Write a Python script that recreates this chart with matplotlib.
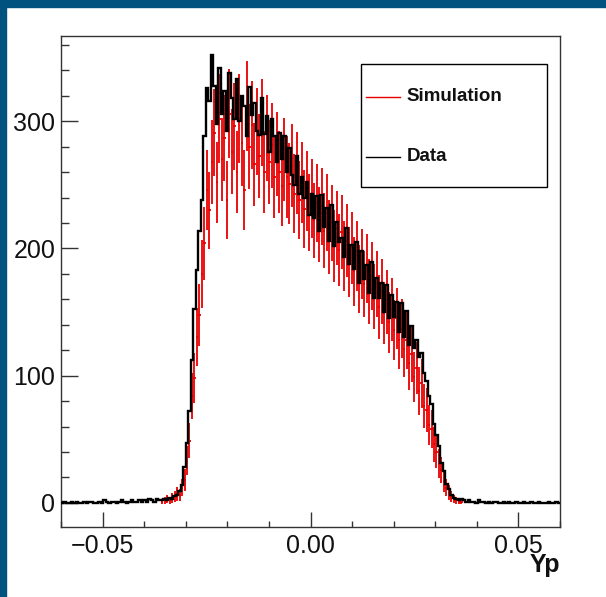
import matplotlib
matplotlib.use('Agg')
import matplotlib.pyplot as plt
from matplotlib.patches import Rectangle
from matplotlib.lines import Line2D
from matplotlib.ticker import MultipleLocator, FuncFormatter
import numpy as np

plt.rcParams['font.family'] = ['Liberation Sans', 'DejaVu Sans']

# histogram binning: 200 bins over [-0.06, 0.06]
n_bins = 200
x_min, x_max = -0.06, 0.06

# Data (black), bins 0-39, 40-160, 161-199
data_left = [0, 1, 0, 0, 1, 0, 1, 0, 0, 1, 0, 1, 1, 0, 0, 1, 0, 2, 1, 0,
             1, 1, 0, 1, 2, 1, 0, 1, 2, 1, 1, 2, 1, 2, 1, 3, 2, 1, 3, 2]
data_core = [2, 3, 2, 4, 3, 5, 6, 9, 14, 28,
             47, 72, 112, 152, 183, 214, 238, 288, 326, 316,
             352, 328, 298, 342, 306, 324, 292, 338, 318, 302,
             333, 300, 320, 312, 288, 327, 305, 314, 292, 289,
             318, 290, 304, 276, 302, 288, 268, 291, 270, 288,
             260, 279, 258, 250, 273, 243, 256, 240, 252, 226,
             243, 224, 241, 214, 242, 217, 232, 206, 234, 202,
             221, 205, 208, 193, 216, 188, 203, 184, 205, 173,
             198, 176, 187, 165, 189, 161, 177, 161, 173, 150,
             171, 145, 163, 146, 158, 134, 157, 130, 151, 124,
             139, 122, 128, 115, 118, 102, 96, 84, 78, 62,
             53, 45, 31, 25, 15, 11, 6, 4, 3, 2,
             3]
data_right = [2, 1, 2, 1, 1, 0, 2, 1, 1, 0, 1, 0, 1, 1, 0, 0, 1, 0, 1, 0,
              0, 1, 0, 0, 1, 0, 0, 1, 0, 0, 1, 0, 0, 0, 1, 0, 0, 1, 0]

# Simulation (red), same bins
sim_left = [0] * 40
sim_core = [1, 2, 3, 2, 4, 5, 7, 6, 12, 18,
            33, 49, 84, 98, 130, 148, 180, 204, 246, 230,
            268, 291, 252, 302, 270, 287, 238, 306, 276, 296,
            260, 302, 283, 246, 312, 280, 297, 266, 292, 273,
            299, 260, 287, 268, 281, 256, 274, 260, 249, 270,
            256, 251, 265, 243, 259, 238, 252, 231, 245, 228,
            239, 222, 236, 219, 233, 214, 228, 209, 220, 202,
            216, 199, 213, 194, 206, 189, 200, 182, 194, 176,
            188, 172, 184, 166, 178, 162, 172, 154, 166, 149,
            158, 142, 152, 136, 145, 128, 137, 121, 128, 110,
            117, 99, 106, 88, 94, 76, 73, 61, 58, 46,
            40, 31, 26, 17, 12, 8, 5, 3, 2, 1,
            1]
sim_right = [0] * 39
sim_scale = 4.0  # weight per simulated event, for the error bars

data = np.array(data_left + data_core + data_right, dtype=float)
sim = np.array(sim_left + sim_core + sim_right, dtype=float)

edges = np.linspace(x_min, x_max, n_bins + 1)
centers = 0.5 * (edges[1:] + edges[:-1])
half_w = 0.5 * (edges[1] - edges[0])

fig = plt.figure(figsize=(6.06, 5.97), dpi=100)
fig.patch.set_facecolor('white')

# dark blue slide border (top and left)
border = '#01527f'
fig.patches.append(Rectangle((0, 1 - 7 / 597), 1, 7 / 597, transform=fig.transFigure,
                             color=border, zorder=0))
fig.patches.append(Rectangle((0, 0), 6 / 606, 1, transform=fig.transFigure,
                             color=border, zorder=0))

ax = fig.add_axes([61 / 606, 1 - 527 / 597, 499 / 606, 491 / 597])

mask = sim > 0
ax.errorbar(centers[mask], sim[mask], xerr=half_w, yerr=np.sqrt(sim_scale * sim[mask]),
            fmt='none', ecolor='#e80000', elinewidth=1.3, capsize=0, zorder=2)

ax.stairs(data, edges, color='black', lw=1.7, baseline=None, zorder=3)

ax.set_xlim(x_min, x_max)
ax.set_ylim(-19, 367)

ax.xaxis.set_major_locator(MultipleLocator(0.05))
ax.xaxis.set_minor_locator(MultipleLocator(0.01))
ax.yaxis.set_major_locator(MultipleLocator(100))
ax.yaxis.set_minor_locator(MultipleLocator(20))

ax.xaxis.set_major_formatter(FuncFormatter(lambda v, p: ('%.2f' % v).replace('-', '\u2212')))
ax.yaxis.set_major_formatter(FuncFormatter(lambda v, p: '%d' % v))

ax.tick_params(axis='both', which='both', direction='in', top=False, right=False,
               color='#333333', width=1.0, labelsize=18, labelcolor='#111111')
ax.tick_params(axis='x', which='major', length=10.5, pad=5)
ax.tick_params(axis='x', which='minor', length=4.5)
ax.tick_params(axis='y', which='major', length=12, pad=4)
ax.tick_params(axis='y', which='minor', length=6)

for s in ax.spines.values():
    s.set_color('#333333')
    s.set_linewidth(1.0)

ax.text(1.0, -0.078, 'Yp', transform=ax.transAxes, ha='right', va='center',
        fontsize=18, fontweight='bold', color='#111111')

# legend box drawn by hand (ROOT TLegend look)
ax.add_patch(Rectangle((0.601, 0.692), 0.373, 0.251, transform=ax.transAxes,
                       facecolor='white', edgecolor='black', lw=1.0, zorder=5))
ax.add_line(Line2D([0.611, 0.679], [0.876, 0.876], transform=ax.transAxes,
                   color='#e80000', lw=1.0, zorder=6))
ax.add_line(Line2D([0.611, 0.679], [0.754, 0.754], transform=ax.transAxes,
                   color='black', lw=1.0, zorder=6))
ax.text(0.693, 0.876, 'Simulation', transform=ax.transAxes, ha='left', va='center',
        fontsize=13.5, fontweight='bold', color='#111111', zorder=6)
ax.text(0.693, 0.754, 'Data', transform=ax.transAxes, ha='left', va='center',
        fontsize=13.5, fontweight='bold', color='#111111', zorder=6)

fig.savefig('out.png', dpi=100)
